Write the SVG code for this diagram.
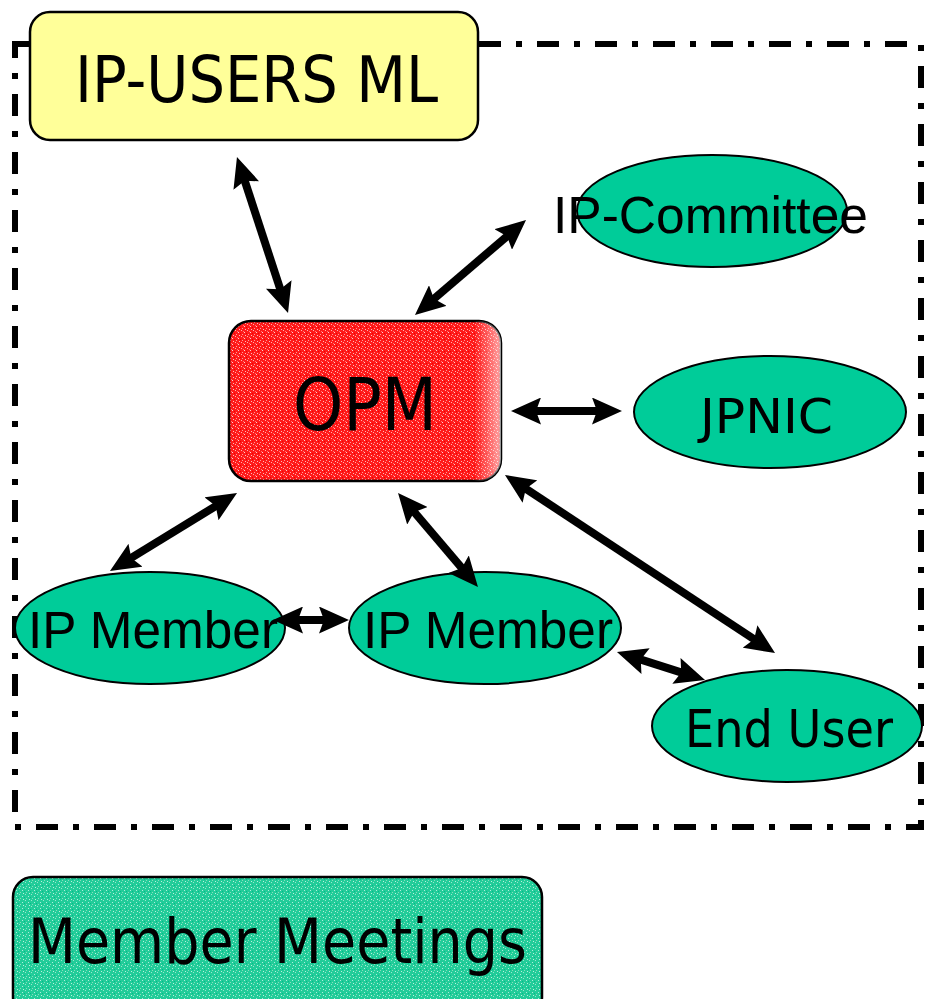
<svg xmlns="http://www.w3.org/2000/svg" width="926" height="999" viewBox="0 0 926 999">
<style>
.ell{fill:#00CC99;stroke:#000;stroke-width:2}
.box{stroke:#000;stroke-width:2.5}
.tah{font-family:"DejaVu Sans","Liberation Sans",sans-serif;fill:#000}
.ari{font-family:"Liberation Sans",Arial,sans-serif;fill:#000}
.conn line{stroke:#000;stroke-width:8;marker-start:url(#ah);marker-end:url(#ah)}
</style>
<defs>
<marker id="ah" markerUnits="userSpaceOnUse" viewBox="0 0 30 27" markerWidth="30" markerHeight="27" refX="18" refY="13.5" orient="auto-start-reverse">
<path d="M0,0 L30,13.5 L0,27 L5,13.5 z" fill="#000"/>
</marker>
<pattern id="redtex" width="6" height="6" patternUnits="userSpaceOnUse">
<rect width="6" height="6" fill="#FF1A1A"/>
<rect x="1" y="0" width="1" height="1" fill="#FFB0B0"/>
<rect x="4" y="2" width="1" height="1" fill="#FFCCCC"/>
<rect x="2" y="4" width="1" height="1" fill="#FF9999"/>
<rect x="5" y="5" width="1" height="1" fill="#FFBBBB"/>
<rect x="3" y="1" width="1" height="1" fill="#FF7777"/>
<rect x="0" y="3" width="1" height="1" fill="#EE0000"/>
</pattern>
<pattern id="teltex" width="6" height="6" patternUnits="userSpaceOnUse">
<rect width="6" height="6" fill="#22CC99"/>
<rect x="1" y="0" width="1" height="1" fill="#99E6CC"/>
<rect x="4" y="2" width="1" height="1" fill="#AAEEDD"/>
<rect x="2" y="4" width="1" height="1" fill="#88DDBB"/>
<rect x="5" y="5" width="1" height="1" fill="#BBF0DD"/>
<rect x="0" y="3" width="1" height="1" fill="#00BB88"/>
</pattern>
<linearGradient id="edge" x1="0" y1="0" x2="1" y2="0">
<stop offset="0.9" stop-color="#fff" stop-opacity="0"/>
<stop offset="1" stop-color="#fff" stop-opacity="0.6"/>
</linearGradient>
</defs>
<rect width="926" height="999" fill="#fff"/>
<g id="boundary">
<rect x="15" y="44" width="906" height="783" fill="none" stroke="#000" stroke-width="6" stroke-dasharray="22 15 6 15"/>
</g>
<g id="ip-users-ml">
<rect class="box" x="30" y="12" width="448" height="128" rx="20" fill="#FFFF99"/>
<text class="tah" x="75" y="102" font-size="64" textLength="363" lengthAdjust="spacingAndGlyphs">IP-USERS ML</text>
</g>
<g id="ip-committee">
<ellipse class="ell" cx="712" cy="211" rx="135" ry="56"/>
<text class="ari" x="553" y="233" font-size="52" textLength="315" lengthAdjust="spacingAndGlyphs">IP-Committee</text>
</g>
<g id="opm">
<rect class="box" x="229" y="321" width="272" height="160" rx="22" fill="url(#redtex)"/>
<rect x="229" y="321" width="272" height="160" rx="22" fill="url(#edge)"/>
<text class="tah" x="293" y="430" font-size="73" textLength="144" lengthAdjust="spacingAndGlyphs">OPM</text>
</g>
<g id="jpnic">
<ellipse class="ell" cx="770" cy="412" rx="136" ry="56"/>
<text class="tah" x="700" y="433" font-size="48" textLength="133" lengthAdjust="spacingAndGlyphs">JPNIC</text>
</g>
<g id="ip-member-1">
<ellipse class="ell" cx="150" cy="628" rx="135" ry="56"/>
<text class="ari" x="28" y="648" font-size="51" textLength="250" lengthAdjust="spacingAndGlyphs">IP Member</text>
</g>
<g id="ip-member-2">
<ellipse class="ell" cx="485" cy="628" rx="136" ry="56"/>
<text class="ari" x="363" y="648" font-size="51" textLength="250" lengthAdjust="spacingAndGlyphs">IP Member</text>
</g>
<g id="end-user">
<ellipse class="ell" cx="787" cy="726" rx="135" ry="56"/>
<text class="tah" x="685" y="747" font-size="51" textLength="208" lengthAdjust="spacingAndGlyphs">End User</text>
</g>
<g id="member-meetings">
<rect class="box" x="13" y="877" width="529" height="140" rx="20" fill="url(#teltex)"/>
<text class="tah" x="28" y="963" font-size="62" textLength="499" lengthAdjust="spacingAndGlyphs">Member Meetings</text>
</g>
<g id="connectors" class="conn">
<line x1="240.7" y1="168.4" x2="284.3" y2="301.6"/>
<line x1="516.9" y1="227.8" x2="424.1" y2="307.2"/>
<line x1="523" y1="411" x2="610" y2="411"/>
<line x1="226.8" y1="499.3" x2="120.2" y2="564.7"/>
<line x1="405.8" y1="502.1" x2="470.2" y2="577.9"/>
<line x1="515" y1="481.6" x2="765" y2="646.4"/>
<line x1="285" y1="620" x2="337" y2="620"/>
<line x1="628.4" y1="655.6" x2="693.6" y2="676.4"/>
</g>
</svg>
